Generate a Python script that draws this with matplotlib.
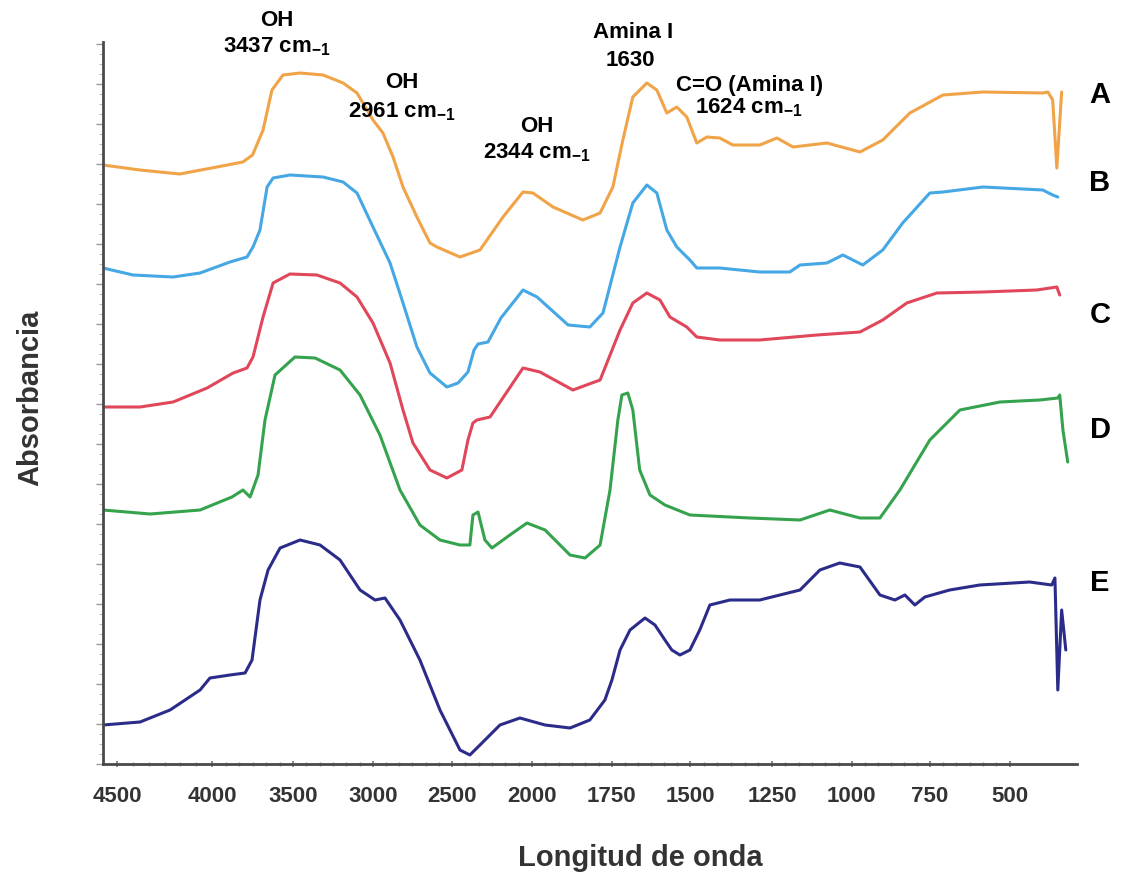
import numpy as np
import matplotlib
matplotlib.use("Agg")
import matplotlib.pyplot as plt
from matplotlib.ticker import FixedLocator, MultipleLocator, AutoMinorLocator, NullFormatter

plt.rcParams['font.family'] = ['Liberation Sans', 'DejaVu Sans']
plt.rcParams['mathtext.fontset'] = 'custom'
plt.rcParams['mathtext.rm'] = 'Liberation Sans:bold'
plt.rcParams['mathtext.it'] = 'Liberation Sans:bold'
plt.rcParams['mathtext.bf'] = 'Liberation Sans:bold'

# eje x no lineal, como en la figura original
ticks_wn = [4500, 4000, 3500, 3000, 2500, 2000, 1750, 1500, 1250, 1000, 750, 500]
escala_wn = [4600] + ticks_wn + [250]
escala_pos = [98, 117, 212, 293, 373, 452, 532, 612, 690, 772, 852, 930, 1010, 1090]

# espectros (numero de onda en cm-1, absorbancia en u.a.)
wn_A = [4574, 4380, 4170, 3970, 3810, 3750, 3685, 3630, 3562, 3456, 3312, 3187, 3100, 3000,
        2937, 2873, 2810, 2722, 2639, 2595, 2450, 2325, 2181, 2056, 1997, 1934, 1841, 1787,
        1747, 1715, 1683, 1638, 1606, 1574, 1542, 1510, 1479, 1448, 1409, 1369, 1287, 1234,
        1184, 1078, 974, 901, 814, 709, 584, 397, 381, 366, 353, 338]
abs_A = [5.99, 5.94, 5.90, 5.97, 6.02, 6.09, 6.34, 6.74, 6.89, 6.91, 6.89, 6.81, 6.71, 6.44,
         6.31, 6.07, 5.77, 5.47, 5.21, 5.17, 5.07, 5.14, 5.47, 5.72, 5.71, 5.57, 5.44, 5.51,
         5.77, 6.24, 6.67, 6.81, 6.74, 6.51, 6.57, 6.47, 6.21, 6.27, 6.26, 6.19, 6.19, 6.26,
         6.17, 6.21, 6.12, 6.24, 6.51, 6.69, 6.72, 6.71, 6.72, 6.64, 5.96, 6.72]

wn_B = [4574, 4416, 4205, 4063, 3889, 3784, 3747, 3704, 3660, 3623, 3519, 3312, 3187, 3100,
        3000, 2892, 2810, 2722, 2639, 2532, 2462, 2400, 2362, 2337, 2275, 2194, 2056, 1984,
        1887, 1819, 1778, 1724, 1683, 1638, 1606, 1574, 1542, 1500, 1479, 1409, 1287, 1194,
        1162, 1078, 1028, 965, 901, 837, 750, 709, 584, 397, 366, 350]
abs_B = [4.96, 4.89, 4.87, 4.91, 5.02, 5.07, 5.17, 5.34, 5.77, 5.86, 5.89, 5.87, 5.82, 5.71,
         5.37, 5.01, 4.61, 4.17, 3.91, 3.77, 3.81, 3.92, 4.14, 4.20, 4.22, 4.46, 4.74, 4.67,
         4.39, 4.37, 4.51, 5.17, 5.61, 5.79, 5.71, 5.34, 5.17, 5.04, 4.96, 4.96, 4.92, 4.92,
         4.99, 5.01, 5.09, 4.99, 5.14, 5.41, 5.71, 5.72, 5.77, 5.74, 5.69, 5.67]

wn_C = [4574, 4379, 4205, 4026, 3870, 3784, 3747, 3685, 3623, 3519, 3350, 3206, 3100, 3000,
        2892, 2810, 2747, 2639, 2532, 2438, 2400, 2369, 2344, 2262, 2056, 1975, 1872, 1787,
        1724, 1683, 1638, 1596, 1564, 1510, 1479, 1409, 1287, 1109, 974, 901, 824, 728, 584,
        416, 353, 344]
abs_C = [3.57, 3.57, 3.62, 3.76, 3.91, 3.96, 4.07, 4.47, 4.81, 4.90, 4.89, 4.81, 4.67, 4.41,
         4.01, 3.54, 3.21, 2.94, 2.86, 2.94, 3.24, 3.41, 3.44, 3.47, 3.96, 3.92, 3.74, 3.84,
         4.34, 4.61, 4.71, 4.64, 4.47, 4.37, 4.27, 4.24, 4.24, 4.29, 4.32, 4.44, 4.61, 4.71,
         4.72, 4.74, 4.77, 4.69]

wn_D = [4574, 4326, 4063, 3877, 3809, 3765, 3716, 3673, 3611, 3488, 3362, 3206, 3081, 2956,
        2829, 2703, 2576, 2450, 2388, 2369, 2337, 2294, 2250, 2138, 2031, 1959, 1881, 1834,
        1787, 1756, 1731, 1718, 1699, 1683, 1661, 1628, 1580, 1500, 1317, 1162, 1069, 974,
        910, 846, 750, 656, 531, 406, 350, 344, 334, 319]
abs_D = [2.54, 2.50, 2.54, 2.67, 2.74, 2.67, 2.89, 3.44, 3.89, 4.07, 4.06, 3.94, 3.69, 3.29,
         2.74, 2.39, 2.24, 2.19, 2.19, 2.49, 2.52, 2.24, 2.16, 2.29, 2.41, 2.34, 2.09, 2.06,
         2.19, 2.74, 3.44, 3.69, 3.71, 3.54, 2.94, 2.69, 2.59, 2.49, 2.46, 2.44, 2.54, 2.46,
         2.46, 2.74, 3.24, 3.54, 3.62, 3.64, 3.66, 3.69, 3.34, 3.02]

wn_E = [4574, 4379, 4221, 4063, 4011, 3889, 3796, 3753, 3704, 3654, 3580, 3456, 3331, 3206,
        3081, 2987, 2924, 2829, 2703, 2576, 2450, 2388, 2325, 2200, 2075, 1959, 1881, 1819,
        1772, 1750, 1724, 1692, 1644, 1612, 1580, 1558, 1532, 1500, 1470, 1439, 1378, 1287,
        1162, 1100, 1038, 974, 910, 862, 830, 798, 766, 688, 594, 438, 369, 359, 350, 338, 325]
abs_E = [0.39, 0.42, 0.54, 0.74, 0.86, 0.89, 0.91, 1.04, 1.64, 1.94, 2.16, 2.24, 2.19, 2.04,
         1.74, 1.64, 1.66, 1.44, 1.04, 0.54, 0.14, 0.09, 0.19, 0.39, 0.46, 0.39, 0.36, 0.44,
         0.64, 0.84, 1.14, 1.34, 1.46, 1.39, 1.24, 1.14, 1.09, 1.14, 1.34, 1.59, 1.64, 1.64,
         1.74, 1.94, 2.01, 1.97, 1.69, 1.64, 1.69, 1.59, 1.67, 1.74, 1.79, 1.82, 1.79, 1.86,
         0.74, 1.54, 1.14]

letras = ["A", "B", "C", "D", "E"]
letras_y = [95, 183, 315, 430, 583]
colores = ["#F0A347", "#45A7E3", "#E0475A", "#35A34E", "#2B2C8A"]

# anotaciones de bandas
notas = ["OH", "3437 cm$_{-1}$", "OH", "2961 cm$_{-1}$", "OH", "2344 cm$_{-1}$",
         "Amina I", "1630", "C=O (Amina I)", "1624 cm$_{-1}$"]
notas_xy = [(277, 20), (277, 47), (402, 83), (402, 112), (537, 127), (537, 153),
            (633, 33), (630, 60), (750, 85), (749, 108)]

W, H = 1122, 885
fig = plt.figure(figsize=(W / 100, H / 100), dpi=100)
ax = fig.add_axes([103 / W, 1 - 764 / H, (1077 - 103) / W, (764 - 42) / H])

# funcion creciente con el numero de onda; el eje se invierte con set_xlim
wn_arr = -np.array(escala_wn, dtype=float)
pos_arr = np.array(escala_pos, dtype=float)
fwd = lambda w: -np.interp(-np.asarray(w, dtype=float), wn_arr, pos_arr)
inv = lambda p: -np.interp(-np.asarray(p, dtype=float), pos_arr, wn_arr)
ax.set_xscale('function', functions=(fwd, inv))

for wn, ab, c in zip([wn_A, wn_B, wn_C, wn_D, wn_E],
                     [abs_A, abs_B, abs_C, abs_D, abs_E], colores):
    ax.plot(wn, ab, color=c, lw=2.2, solid_joinstyle='round', solid_capstyle='round')

ax.set_xlim(4574, 290)
ax.set_ylim(0, 7.22)

ax.spines['top'].set_visible(False)
ax.spines['right'].set_visible(False)
for s in ['left', 'bottom']:
    ax.spines[s].set_color('#4a4a4a')
    ax.spines[s].set_linewidth(2)

ax.xaxis.set_major_locator(FixedLocator(ticks_wn))
ax.set_xticklabels([str(t) for t in ticks_wn])
menores = []
for a, b in zip(ticks_wn[:-1], ticks_wn[1:]):
    menores += list(np.linspace(a, b, 7)[1:-1])
ax.xaxis.set_minor_locator(FixedLocator(menores))
ax.tick_params(axis='x', which='major', direction='inout', length=5, width=1.2,
               color='#777777', pad=13, labelsize=16, labelcolor='#333333')
ax.tick_params(axis='x', which='minor', direction='inout', length=3, width=1, color='#999999')
for lab in ax.get_xticklabels():
    lab.set_fontweight('bold')

ax.yaxis.set_major_locator(MultipleLocator(0.4))
ax.yaxis.set_minor_locator(AutoMinorLocator(4))
ax.yaxis.set_major_formatter(NullFormatter())
ax.tick_params(axis='y', which='major', direction='out', length=5, width=1, color='#999999')
ax.tick_params(axis='y', which='minor', direction='out', length=3, width=0.8, color='#bbbbbb')

for txt, (x, y) in zip(notas, notas_xy):
    fig.text(x / W, 1 - y / H, txt, ha='center', va='center', fontsize=16,
             fontweight='bold', color='black')

for l, y in zip(letras, letras_y):
    fig.text(1100 / W, 1 - y / H, l, ha='center', va='center', fontsize=21,
             fontweight='bold', color='black')

fig.text(640 / W, 1 - 858 / H, "Longitud de onda", ha='center', va='center',
         fontsize=21, fontweight='bold', color='#333333')
fig.text(30 / W, 1 - 398 / H, "Absorbancia", ha='center', va='center', rotation=90,
         fontsize=21, fontweight='bold', color='#333333')

fig.savefig("out.png", dpi=100)
